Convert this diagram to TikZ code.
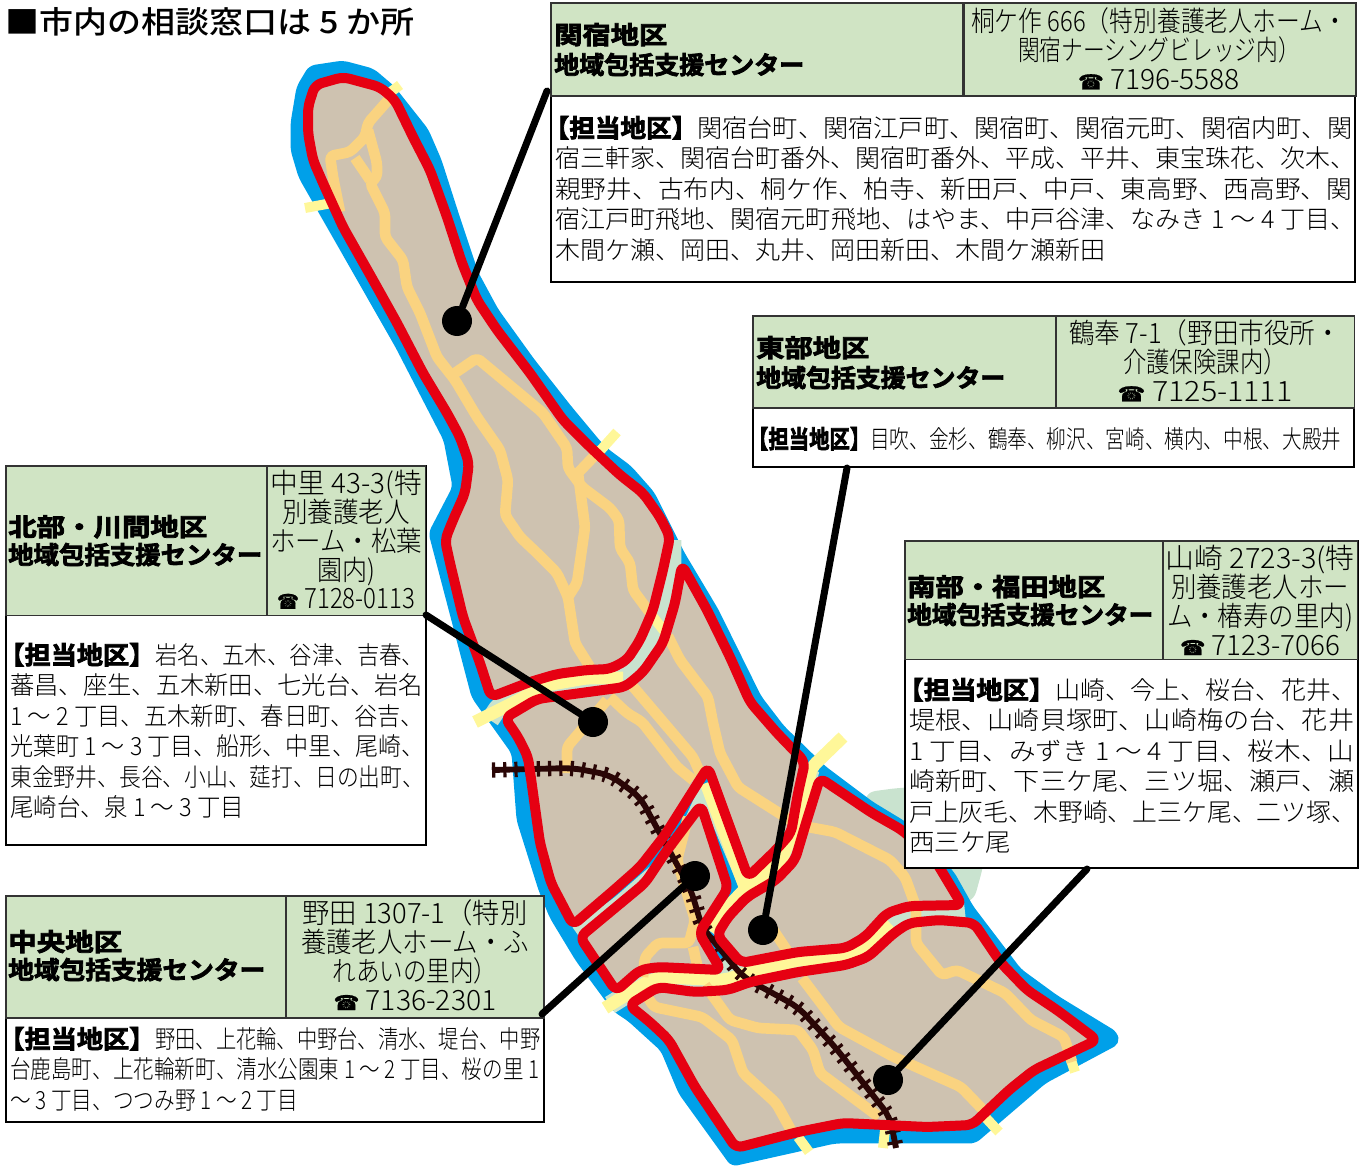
\documentclass[tikz,border=0pt]{standalone}
\usepackage{graphicx}
\usepackage{fontspec}
\setmainfont{Noto Sans CJK JP Light}
\newfontfamily\jpbold{Noto Sans CJK JP Bold}[FakeBold=3]
\newfontfamily\jpmed{Noto Sans CJK JP Medium}
\newfontfamily\phonefont{DejaVu Sans}[FakeBold=1]
\newsavebox\flbox
\newcommand\FL[2]{\sbox\flbox{#2}\pgfmathsetmacro\flr{#1*0.75/(\the\wd\flbox)}\rule[-0.2em]{0pt}{1em}\smash{\scalebox{\flr}[1]{\usebox\flbox}}}
\newcommand\TAN{\hspace{-0.45em}{\jpbold 【担当地区】}}
\newcommand\TEL{{\phonefont\fontsize{15.5}{15.5}\selectfont ☎}}
\definecolor{cblue}{HTML}{00A0E9}
\definecolor{cred}{HTML}{E60012}
\definecolor{cland}{HTML}{CEC2B0}
\definecolor{cyel}{HTML}{FFF799}
\definecolor{corg}{HTML}{FAD380}
\definecolor{cgrn}{HTML}{C9E3CF}
\definecolor{chead}{HTML}{D0E4C4}
\definecolor{crail}{HTML}{2A0606}
\tikzset{
  regionfill/.style={fill=cland,rounded corners=5pt},
  regionline/.style={draw=cred,line width=7.5pt,line join=round,rounded corners=5pt},
  road/.style={draw=corg,line width=8pt,line join=round,rounded corners=3pt},
  highway/.style={draw=cyel,line width=9.5pt,line join=round,rounded corners=4pt},
  tick/.style={draw=cyel,line width=7.5pt},
  river/.style={draw=cgrn,line width=14pt,line join=round,rounded corners=4pt},
  railbase/.style={draw=crail,line width=4.4pt,line join=round,rounded corners=8pt},
  railtie/.style={draw=crail,line width=11.5pt,dash pattern=on 2.4pt off 6pt,rounded corners=8pt},
  leader/.style={draw=black,line width=5.25pt,line cap=round},
  dot/.style={circle,fill=black,minimum size=22.5pt,inner sep=0pt},
  bodybox/.style={draw=black,line width=1.5pt,fill=white,inner sep=0pt,outer sep=0pt},
  headbox/.style={draw=black!80,line width=1.2pt,fill=chead,inner sep=0pt,outer sep=0pt},
  bodytext/.style={inner sep=0pt,align=left,anchor=north west,font=\fontsize{18.75}{22.9}\selectfont},
  headtext/.style={inner sep=0pt,align=left,anchor=north west,font=\jpbold\fontsize{18.5}{#1}\selectfont},
  addrtext/.style={inner sep=0pt,align=center,anchor=north,font=\fontsize{21}{21.6}\selectfont},
}
\newcommand\regA{(315,85) -- (343,77) -- (380,87) -- (395,100) -- (413,137) -- (430,170) -- (447,217) -- (462,263) -- (477,300) -- (497,330) -- (530,373) -- (563,420) -- (590,447) -- (620,475) -- (643,493) -- (660,517) -- (670,537) -- (663,570) -- (653,610) -- (640,640) -- (627,660) -- (610,669) -- (587,670) -- (557,674) -- (530,682) -- (491,697) -- (480,663) -- (463,617) -- (450,563) -- (445,540) -- (453,520) -- (465,493) -- (469,463) -- (460,437) -- (447,413) -- (423,373) -- (397,323) -- (373,280) -- (343,227) -- (323,183) -- (313,160) -- (308,133) -- (308,107)}
\newcommand\regB{(505,718) -- (537,699) -- (625,687) -- (643,672) -- (663,643) -- (675,603) -- (682,565) -- (707,610) -- (730,657) -- (750,702) -- (777,733) -- (805,762) -- (798,793) -- (791,833) -- (776,850) -- (748,877) -- (708,767) -- (665,835) -- (640,867) -- (614,890) -- (573,925) -- (551,883) -- (540,843) -- (528,757) -- (518,737)}
\newcommand\regC{(580,937) -- (645,883) -- (665,853) -- (701,805) -- (728,888) -- (699,933) -- (721,970) -- (658,967) -- (640,970) -- (616,991)}
\newcommand\regD{(717,935) -- (741,963) -- (798,952) -- (846,948) -- (865,937) -- (887,913) -- (909,906) -- (962,905) -- (935,860) -- (902,830) -- (872,813) -- (820,778) -- (806,823) -- (795,860) -- (776,880) -- (747,897) -- (728,917)}
\newcommand\regE{(629,1005) -- (658,987) -- (695,992) -- (728,990) -- (750,982) -- (798,972) -- (846,965) -- (868,957) -- (894,933) -- (909,923) -- (939,920) -- (974,923) -- (1001,963) -- (1027,990) -- (1057,1010) -- (1097,1040) -- (1034,1070) -- (1009,1090) -- (972,1125) -- (927,1127) -- (843,1123) -- (798,1132) -- (736,1148) -- (695,1087) -- (669,1040) -- (651,1023)}
\begin{document}
\begin{tikzpicture}[x=0.75pt,y=-0.75pt]
\useasboundingbox (0,0) rectangle (1367,1166);
% pale green patch
\fill[cgrn,rounded corners=12pt] (860,793) -- (905,787) -- (985,787) -- (985,860) -- (972,907) -- (900,880) -- cycle;
% blue water
\filldraw[fill=cblue,draw=cblue,line width=2.2pt,line join=round,rounded corners=4pt] (310,67) -- (343,62) -- (373,70) -- (393,87) -- (427,130) -- (440,160) -- (457,213) -- (477,273) -- (497,310) -- (533,360) -- (570,407) -- (600,443) -- (607,450) -- (630,467) -- (653,493) -- (683,553) -- (717,610) -- (760,697) -- (783,727) -- (824,767) -- (872,803) -- (905,823) -- (953,873) -- (972,907) -- (1020,970) -- (1057,997) -- (1116,1033) -- (1118,1043) -- (1045,1082) -- (975,1142) -- (835,1142) -- (732,1165) -- (680,1093) -- (662,1050) -- (629,1020) -- (614,1010) -- (577,960) -- (551,917) -- (540,890) -- (518,820) -- (513,753) -- (473,697) -- (430,533) -- (454,487) -- (445,440) -- (397,347) -- (300,177) -- (292,150) -- (292,123) -- (298,87) -- cycle;
% rivers
\draw[river] (672,540) -- (672,590) -- (650,650) -- (620,680) -- (560,685) -- (500,705) -- (490,720);
\draw[river] (708,790) -- (690,830) -- (660,870) -- (620,905) -- (578,935);
\draw[river] (706,785) -- (748,885);
\draw[river] (810,770) -- (795,840) -- (750,890) -- (715,935);
\draw[river] (720,968) -- (800,962) -- (850,955) -- (890,920) -- (965,912);
\draw[river] (610,1005) -- (650,980) -- (725,985);
% highways and road stubs
\draw[highway] (475,722) -- (513,703) -- (547,685) -- (587,678) -- (623,678);
\draw[highway] (605,1008) -- (647,982) -- (662,977) -- (725,980) -- (747,973) -- (798,960) -- (846,957) -- (865,947) -- (890,923);
\draw[highway] (843,737) -- (812,767) -- (795,827) -- (780,863) -- (747,887) -- (725,910) -- (712,932);
\draw[highway] (706,783) -- (745,887);
\draw[tick] (305,208) -- (332,203);
\draw[tick] (388,94) -- (400,85);
\draw[tick] (590,462) -- (617,432);
\draw[tick] (1070,1057) -- (1075,1072);
\draw[tick] (986,1118) -- (999,1132);
\draw[tick] (798,1137) -- (809,1152);
\draw[tick] (885,1130) -- (883,1148);
\draw[tick] (650,613) -- (668,636);
% land
\fill[regionfill] \regA -- cycle;
\fill[regionfill] \regB -- cycle;
\fill[regionfill] \regC -- cycle;
\fill[regionfill] \regD -- cycle;
\fill[regionfill] \regE -- cycle;
% roads
\draw[road] (390,98) -- (368,123) -- (365,137) -- (350,152) -- (330,156) -- (333,177) -- (340,212);
\draw[road] (368,130) -- (377,163) -- (377,177) -- (370,183) -- (377,197) -- (385,213) -- (385,237) -- (403,260) -- (407,287) -- (420,313) -- (437,357) -- (455,380) -- (477,417) -- (500,450) -- (508,480) -- (505,515) -- (520,537) -- (537,553) -- (557,573) -- (568,597) -- (575,643) -- (590,667);
\draw[road] (355,158) -- (370,180);
\draw[road] (452,375) -- (477,358) -- (507,383) -- (543,413) -- (567,448) -- (568,468) -- (582,487) -- (610,508) -- (619,520) -- (620,548) -- (630,563) -- (633,590) -- (650,613);
\draw[road] (578,473) -- (585,527) -- (577,583) -- (568,597);
\draw[road] (578,473) -- (600,450);
\draw[road] (668,636) -- (680,660) -- (708,697) -- (713,723) -- (720,753) -- (738,787) -- (790,820);
\draw[road] (808,827) -- (835,832) -- (890,860) -- (905,877) -- (916,907) -- (916,943) -- (942,975) -- (957,970) -- (1005,993) -- (1031,1020) -- (1064,1037) -- (1072,1062);
\draw[road] (610,697) -- (627,713) -- (642,722) -- (677,767) -- (693,780);
\draw[road] (630,683) -- (693,757) -- (700,773);
\draw[road] (607,700) -- (567,747) -- (567,773);
\draw[road] (688,817) -- (677,860) -- (695,920) -- (689,943) -- (658,943) -- (645,957) -- (643,977);
\draw[road] (643,990) -- (654,1007) -- (702,1017) -- (732,1040) -- (743,1073) -- (776,1103) -- (791,1130);
\draw[road] (693,947) -- (699,973);
\draw[road] (705,985) -- (730,1020) -- (758,1028) -- (798,1030) -- (813,1050) -- (820,1073) -- (879,1117);
\draw[road] (770,925) -- (790,955);
\draw[road] (802,978) -- (839,1027) -- (894,1057) -- (961,1087) -- (986,1113);
% railway
\draw[railbase] (492,770) -- (573,768) -- (610,775) -- (640,797) -- (658,830) -- (691,890) -- (702,927) -- (743,977) -- (798,1007) -- (835,1047) -- (890,1117) -- (896,1148);
\draw[railtie] (492,770) -- (573,768) -- (610,775) -- (640,797) -- (658,830) -- (691,890) -- (702,927) -- (743,977) -- (798,1007) -- (835,1047) -- (890,1117) -- (896,1148);
% region outlines
\draw[regionline] \regA -- cycle;
\draw[regionline] \regB -- cycle;
\draw[regionline] \regC -- cycle;
\draw[regionline] \regD -- cycle;
\draw[regionline] \regE -- cycle;
% title
\node[inner sep=0pt,anchor=north west,font=\jpmed\fontsize{23}{24}\selectfont] (title) at (5,9) {\FL{409}{■市内の相談窓口は 5 か所}};
% Sekiyado
\node[bodybox,anchor=north west,minimum width=603pt,minimum height=209pt] (b1) at (551,3) {};
\node[headbox,anchor=north west,minimum width=309pt,minimum height=69.75pt] (h1a) at (551,3) {};
\node[headbox,anchor=north west,minimum width=294pt,minimum height=69.75pt] (h1b) at (964,3) {};
\node[headtext=22.5] (h1t) at (554,24) {\FL{113}{関宿地区}\\\FL{250}{地域包括支援センター}};
\node[addrtext] (a1t) at (1159,9) {\FL{376}{桐ケ作 666（特別養護老人ホーム・}\\\FL{282}{関宿ナーシングビレッジ内）}\\\FL{162}{\TEL\ 7196-5588}};
\node[bodytext] (t1) at (555,117) {\FL{142}{\TAN}\FL{655}{関宿台町、関宿江戸町、関宿町、関宿元町、関宿内町、関}\\\FL{800}{宿三軒家、関宿台町番外、関宿町番外、平成、平井、東宝珠花、次木、}\\\FL{797}{親野井、古布内、桐ケ作、柏寺、新田戸、中戸、東高野、西高野、関}\\\FL{800}{宿江戸町飛地、関宿元町飛地、はやま、中戸谷津、なみき 1 ～ 4 丁目、}\\\FL{550}{木間ケ瀬、岡田、丸井、岡田新田、木間ケ瀬新田}};
% Tobu
\node[bodybox,anchor=north west,minimum width=451pt,minimum height=113pt] (b2) at (753,316) {};
\node[headbox,anchor=north west,minimum width=227pt,minimum height=69pt] (h2a) at (753,316) {};
\node[headbox,anchor=north west,minimum width=224pt,minimum height=69pt] (h2b) at (1056,316) {};
\node[headtext=22.5] (h2t) at (756,337) {\FL{113}{東部地区}\\\FL{249}{地域包括支援センター}};
\node[addrtext] (a2t) at (1205,321) {\FL{272}{鶴奉 7-1（野田市役所・}\\\FL{164}{介護保険課内）}\\\FL{175}{\TEL\ 7125-1111}};
\node[bodytext] (t2) at (757,428) {\FL{113}{\TAN}\FL{471}{目吹、金杉、鶴奉、柳沢、宮崎、横内、中根、大殿井}};
% Hokubu
\node[bodybox,anchor=north west,minimum width=315pt,minimum height=284pt] (b3) at (6,466) {};
\node[headbox,anchor=north west,minimum width=196pt,minimum height=112pt] (h3a) at (6,466) {};
\node[headbox,anchor=north west,minimum width=119pt,minimum height=112pt] (h3b) at (267,466) {};
\node[headtext=21] (h3t) at (8,516) {\FL{199}{北部・川間地区}\\\FL{254}{地域包括支援センター}};
\node[addrtext] (a3t) at (346,471) {\FL{152}{中里 43-3(特}\\\FL{128}{別養護老人}\\\FL{152}{ホーム・松葉}\\\FL{58}{園内)}\\\FL{138}{\TEL\ 7128-0113}};
\node[bodytext] (t3) at (10,644) {\FL{145}{\TAN}\FL{269}{岩名、五木、谷津、吉春、}\\\FL{413}{蕃昌、座生、五木新田、七光台、岩名}\\\FL{414}{1 ～ 2 丁目、五木新町、春日町、谷吉、}\\\FL{414}{光葉町 1 ～ 3 丁目、船形、中里、尾崎、}\\\FL{414}{東金野井、長谷、小山、莚打、日の出町、}\\\FL{234}{尾崎台、泉 1 ～ 3 丁目}};
% Nanbu
\node[bodybox,anchor=north west,minimum width=340pt,minimum height=245pt] (b4) at (905,541) {};
\node[headbox,anchor=north west,minimum width=193pt,minimum height=89pt] (h4a) at (905,541) {};
\node[headbox,anchor=north west,minimum width=146pt,minimum height=89pt] (h4b) at (1163,541) {};
\node[headtext=21] (h4t) at (907,576) {\FL{198}{南部・福田地区}\\\FL{246}{地域包括支援センター}};
\node[addrtext] (a4t) at (1260,546) {\FL{189}{山崎 2723-3(特}\\\FL{178}{別養護老人ホー}\\\FL{186}{ム・椿寿の里内)}\\\FL{160}{\TEL\ 7123-7066}};
\node[bodytext] (t4) at (909,679) {\FL{146}{\TAN}\FL{301}{山崎、今上、桜台、花井、}\\\FL{445}{堤根、山崎貝塚町、山崎梅の台、花井}\\\FL{445}{1 丁目、みずき 1 ～ 4 丁目、桜木、山}\\\FL{445}{崎新町、下三ケ尾、三ツ堀、瀬戸、瀬}\\\FL{447}{戸上灰毛、木野崎、上三ケ尾、二ツ塚、}\\\FL{102}{西三ケ尾}};
% Chuo
\node[bodybox,anchor=north west,minimum width=403.5pt,minimum height=169.5pt] (b5) at (6,896) {};
\node[headbox,anchor=north west,minimum width=210pt,minimum height=91.5pt] (h5a) at (6,896) {};
\node[headbox,anchor=north west,minimum width=193.5pt,minimum height=91.5pt] (h5b) at (286,896) {};
\node[headtext=21] (h5t) at (8,931) {\FL{114}{中央地区}\\\FL{257}{地域包括支援センター}};
\node[addrtext] (a5t) at (415,901) {\FL{225}{野田 1307-1（特別}\\\FL{228}{養護老人ホーム・ふ}\\\FL{165}{れあいの里内）}\\\FL{163}{\TEL\ 7136-2301}};
\node[bodytext] (t5) at (10,1028) {\FL{145}{\TAN}\FL{385}{野田、上花輪、中野台、清水、堤台、中野}\\\FL{529}{台鹿島町、上花輪新町、清水公園東 1 ～ 2 丁目、桜の里 1}\\\FL{288}{～ 3 丁目、つつみ野 1 ～ 2 丁目}};
% leaders
\node[dot] (d1) at (457,321) {};
\node[dot] (d2) at (763,930) {};
\node[dot] (d3) at (593,722) {};
\node[dot] (d4) at (695,876) {};
\node[dot] (d5) at (888,1080) {};
\coordinate (s1) at (547,91);
\coordinate (s2) at (847,468);
\coordinate (s3) at (426,615);
\coordinate (s4) at (542,1014);
\coordinate (s5) at (1087,869);
\draw[leader] (s1) -- (d1);
\draw[leader] (s2) -- (d2);
\draw[leader] (s3) -- (d3);
\draw[leader] (s4) -- (d4);
\draw[leader] (s5) -- (d5);
\end{tikzpicture}
\end{document}
